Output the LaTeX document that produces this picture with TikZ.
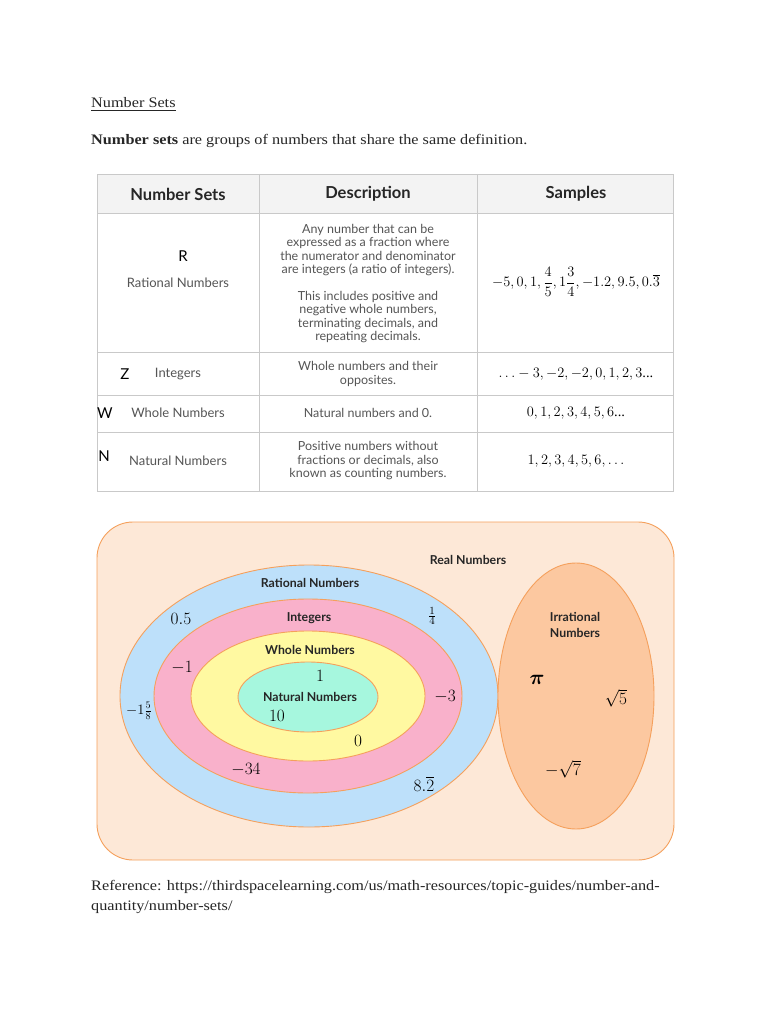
\documentclass[tikz,border=0pt]{standalone}
\usepackage{amsmath}
\usepackage{fontspec}
\setmainfont{Liberation Serif}
\newfontfamily\tabfont{Lato}
\definecolor{outerfill}{HTML}{FDE8D7}
\definecolor{orangeline}{HTML}{F5A05C}
\definecolor{ratfill}{HTML}{BDE0FA}
\definecolor{intfill}{HTML}{F9B1CB}
\definecolor{wholefill}{HTML}{FFF9A1}
\definecolor{natfill}{HTML}{A6F7DE}
\definecolor{irrfill}{HTML}{FCC8A0}
\definecolor{gridgray}{HTML}{C9C9C9}
\definecolor{headfill}{HTML}{F3F3F3}
\definecolor{celltext}{HTML}{555555}
\tikzset{
 body/.style={font=\fontsize{14.5}{17}\selectfont, inner sep=0, anchor=base west, text=black!85, xscale=1.12},
 th/.style={font=\tabfont\bfseries\fontsize{16.5}{18}\selectfont, inner sep=0, text=black!85},
 td/.style={font=\tabfont\fontsize{12.5}{13.5}\selectfont, inner sep=0, text=celltext, align=center},
 tn/.style={font=\tabfont\fontsize{13}{15}\selectfont, inner sep=0, text=celltext},
 tl/.style={font=\tabfont\fontsize{15}{17}\selectfont, inner sep=0, text=black},
 samp/.style={inner sep=0, font=\fontsize{14.5}{16}\selectfont},
 gridline/.style={draw=gridgray, line width=0.9pt},
 vlab/.style={font=\tabfont\bfseries\fontsize{12.3}{16}\selectfont, inner sep=0, text=black!85, align=center},
 vnum/.style={inner sep=0, font=\fontsize{17}{19}\selectfont},
 setb/.style={draw=orangeline, line width=0.9pt}
}
\begin{document}
\begin{tikzpicture}[x=1pt,y=-1pt]
\useasboundingbox[fill=white] (0,0) rectangle (768,1024);
% heading text
\node[body] (title) at (91,108) {\underline{Number Sets}};
\node[body] (intro) at (91,145) {\textbf{Number sets} are groups of numbers that share the same definition.};
% table
\fill[headfill] (97,174) rectangle (673,213);
\draw[gridline] (97,174) rectangle (673,491);
\draw[gridline] (259,174) -- (259,491);
\draw[gridline] (477,174) -- (477,491);
\foreach \yy in {213,352,395,432} \draw[gridline] (97,\yy) -- (673,\yy);
\node[th] (h1) at (178,194) {Number Sets};
\node[th] (h2) at (368,194) {Description};
\node[th] (h3) at (576,194) {Samples};
% row R
\node[tl] (rR) at (183,256) {R};
\node[tn] (rRn) at (178,283) {Rational Numbers};
\node[td] (rRd1) at (368,250) {Any number that can be\\expressed as a fraction where\\the numerator and denominator\\are integers (a ratio of integers).};
\node[td] (rRd2) at (368,317) {This includes positive and\\negative whole numbers,\\terminating decimals, and\\repeating decimals.};
\node[samp] (rRs) at (576,282) {$-5, 0, 1, \dfrac{4}{5}, 1\dfrac{3}{4}, -1.2, 9.5, 0.\overline{3}$};
% row Z
\node[tl] (rZ) at (125,374) {Z};
\node[tn] (rZn) at (178,374) {Integers};
\node[td] (rZd) at (368,374) {Whole numbers and their\\opposites.};
\node[samp] (rZs) at (576,374) {$\ldots-3, -2, -2, 0, 1, 2, 3$...};
% row W
\node[tl] (rW) at (105,413) {W};
\node[tn] (rWn) at (178,413) {Whole Numbers};
\node[td] (rWd) at (368,413) {Natural numbers and 0.};
\node[samp] (rWs) at (576,413) {$0, 1, 2, 3, 4, 5, 6$...};
% row N
\node[tl] (rN) at (104,456) {N};
\node[tn] (rNn) at (178,461) {Natural Numbers};
\node[td] (rNd) at (368,461) {Positive numbers without\\fractions or decimals, also\\known as counting numbers.};
\node[samp] (rNs) at (576,461) {$1, 2, 3, 4, 5, 6, \ldots$};
% Venn diagram
\draw[setb, fill=outerfill, rounded corners=36pt] (97,522) rectangle (674,860);
\draw[setb, fill=ratfill] (309,696) ellipse [x radius=189, y radius=131];
\draw[setb, fill=intfill] (308,696) ellipse [x radius=154, y radius=97];
\draw[setb, fill=wholefill] (308,696) ellipse [x radius=117, y radius=65];
\draw[setb, fill=natfill] (308,697) ellipse [x radius=70, y radius=35];
\draw[setb, fill=irrfill] (576,696) ellipse [x radius=78, y radius=133];
\node[vlab] (lreal) at (468,560) {Real Numbers};
\node[vlab] (lrat) at (310,583) {Rational Numbers};
\node[vlab] (lint) at (309,618) {Integers};
\node[vlab] (lwhole) at (310,650) {Whole Numbers};
\node[vlab] (lnat) at (310,697) {Natural Numbers};
\node[vlab] (lirr) at (575,625) {Irrational\\Numbers};
\node[vnum] (n05) at (181,619) {$0.5$};
\node[vnum, font=\fontsize{15}{17}\selectfont] (nq) at (432,616) {$\frac{1}{4}$};
\node[vnum] (nm1) at (182,668) {$-1$};
\node[vnum] (n1) at (320,676) {$1$};
\node[vnum] (nm3) at (445,697) {$-3$};
\node[vnum, font=\fontsize{14}{16}\selectfont] (nmix) at (139,711) {$-1\frac{5}{8}$};
\node[vnum] (n10) at (277,716) {$10$};
\node[vnum] (n0) at (358,741) {$0$};
\node[vnum] (nm34) at (246,770) {$-34$};
\node[vnum] (n82) at (424,784) {$8.\overline{2}$};
\node[vnum, font=\fontsize{22}{24}\selectfont] (npi) at (537,680) {$\boldsymbol{\pi}$};
\node[vnum] (ns5) at (616,698) {$\sqrt{5}$};
\node[vnum] (ns7) at (563,769) {$-\sqrt{7}$};
% reference
\node[body] (ref1) at (91,890) {Reference: https://thirdspacelearning.com/us/math-resources/topic-guides/number-and-};
\node[body] (ref2) at (91,910) {quantity/number-sets/};
\end{tikzpicture}
\end{document}
